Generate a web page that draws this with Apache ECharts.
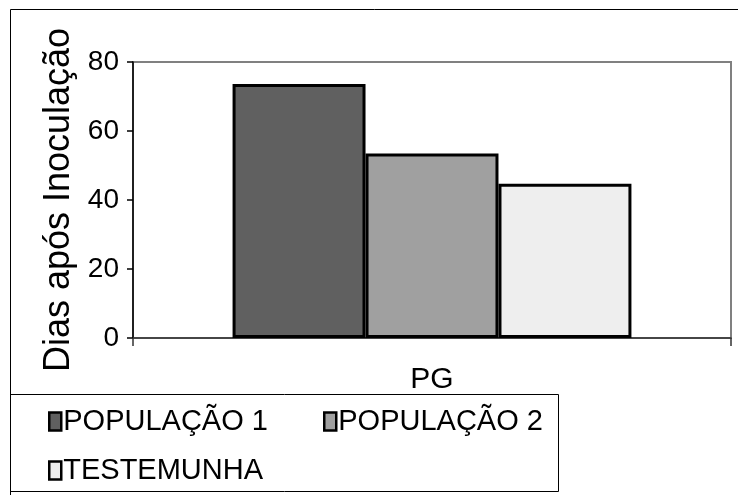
<!DOCTYPE html>
<html>
<head>
<meta charset="utf-8">
<script src="https://cdn.jsdelivr.net/npm/echarts@6/dist/echarts.min.js"></script>
<style>
  html, body { margin: 0; padding: 0; background: #fff; }
  #chart { width: 738px; height: 495px; }
</style>
</head>
<body>
<div id="chart"></div>
<script>
const categories = ['PG'];
const seriesNames = ['POPULAÇÃO 1', 'POPULAÇÃO 2', 'TESTEMUNHA'];
const pop1 = [73.6];
const pop2 = [53.5];
const testemunha = [44.7];
const yTicks = { min: 0, max: 80, interval: 20 };
const yAxisTitle = 'Dias após Inoculação';

const FONT = "'Liberation Sans', Arial, sans-serif";
const colors = ['#606060', '#a0a0a0', '#eeeeee'];
const values = [pop1, pop2, testemunha];

const chart = echarts.init(document.getElementById('chart'), null, { renderer: 'canvas' });

const legendPos = [
  { left: 48, top: 407 },
  { left: 323, top: 407 },
  { left: 48, top: 456 }
];

chart.setOption({
  animation: false,
  backgroundColor: '#ffffff',
  grid: {
    left: 133, top: 62, right: 7, bottom: 157,
    show: true, borderColor: '#808080', borderWidth: 2, backgroundColor: 'transparent'
  },
  graphic: [
    { type: 'rect', shape: { x: 10.5, y: 9.5, width: 740, height: 500 }, style: { fill: 'none', stroke: '#000', lineWidth: 1 }, silent: true, z: -1 },
    { type: 'rect', shape: { x: 10.5, y: 394.5, width: 548, height: 97 }, style: { fill: 'none', stroke: '#000', lineWidth: 1 }, silent: true, z: 0 }
  ],
  legend: seriesNames.map((n, i) => ({
    data: [n],
    left: legendPos[i].left,
    top: legendPos[i].top,
    padding: 0,
    icon: 'rect',
    itemWidth: 12,
    itemHeight: 18,
    itemGap: 0,
    selectedMode: false,
    itemStyle: { borderColor: '#000', borderWidth: 2.5 },
    textStyle: { fontFamily: FONT, fontSize: 29, color: '#000', padding: [0, 0, 0, -3] },
    z: 5
  })),
  xAxis: {
    type: 'category',
    data: categories,
    axisLine: { show: true, lineStyle: { color: '#333', width: 1.5 } },
    axisTick: { show: true, length: 8, lineStyle: { color: '#333', width: 1.5 } },
    axisLabel: { fontFamily: FONT, fontSize: 30, color: '#000', margin: 27 },
    splitLine: { show: false }
  },
  yAxis: {
    type: 'value',
    min: yTicks.min, max: yTicks.max, interval: yTicks.interval,
    name: yAxisTitle,
    nameLocation: 'middle',
    nameRotate: 90,
    nameGap: 52,
    nameTextStyle: { fontFamily: FONT, fontSize: 36, color: '#000' },
    axisLine: { show: true, lineStyle: { color: '#000', width: 1.5 } },
    axisTick: { show: true, length: 6, lineStyle: { color: '#000', width: 1.5 } },
    axisLabel: { fontFamily: FONT, fontSize: 28, color: '#000', margin: 14 },
    splitLine: { show: false }
  },
  series: seriesNames.map((n, i) => ({
    name: n,
    type: 'bar',
    data: values[i],
    barGap: '0%',
    barCategoryGap: '33.3%',
    itemStyle: { color: colors[i], borderColor: '#000', borderWidth: 3 },
    emphasis: { disabled: true }
  }))
});
</script>
</body>
</html>
